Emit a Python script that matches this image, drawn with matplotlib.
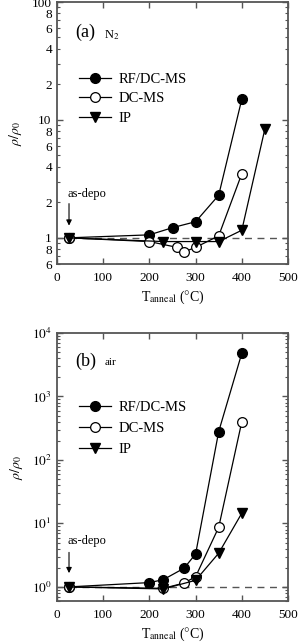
import matplotlib
matplotlib.use("Agg")
import matplotlib.pyplot as plt
from matplotlib.ticker import LogLocator, FuncFormatter, FixedLocator, NullFormatter
import numpy as np

plt.rcParams['font.family'] = ['Liberation Serif', 'DejaVu Serif']
plt.rcParams['mathtext.fontset'] = 'stix'

# Panel (a) N2
x_rf_a = [25, 200, 250, 300, 350, 400]
y_rf_a = [1.0, 1.06, 1.22, 1.37, 2.3, 15]
x_dc_a = [25, 200, 260, 275, 300, 350, 400]
y_dc_a = [1.0, 0.93, 0.83, 0.76, 0.83, 1.04, 3.5]
x_ip_a = [25, 230, 300, 350, 400, 450]
y_ip_a = [1.0, 0.93, 0.93, 0.93, 1.16, 8.4]

# Panel (b) air
x_rf_b = [25, 200, 230, 275, 300, 350, 400]
y_rf_b = [1.0, 1.17, 1.3, 1.97, 3.3, 280, 4800]
x_dc_b = [25, 230, 275, 300, 350, 400]
y_dc_b = [1.0, 0.95, 1.15, 1.45, 8.7, 400]
x_ip_b = [25, 230, 300, 350, 400]
y_ip_b = [1.0, 0.93, 1.27, 3.4, 14.5]

series_labels = ['RF/DC-MS', 'DC-MS', 'IP']
xticks = [0, 100, 200, 300, 400, 500]

fig = plt.figure(figsize=(2.99, 6.42), dpi=100)
ax_a = fig.add_axes([57/299, 1-264/642, 231/299, 262/642])
ax_b = fig.add_axes([57/299, 1-601/642, 231/299, 268/642])

spine_c = '#555555'
lw = 0.9
ms = 7

def draw(ax, data, leg_anchor, lspace):
    (xr, yr), (xd, yd), (xi, yi) = data
    ax.axhline(1.0, color='#555555', ls=(0, (5, 4)), lw=1.0, zorder=1)
    ax.plot(xr, yr, '-o', color='black', mfc='black', mec='black', ms=ms, lw=lw,
            label=series_labels[0], zorder=3)
    ax.plot(xd, yd, '-o', color='black', mfc='white', mec='black', ms=ms, lw=lw,
            mew=0.9, label=series_labels[1], zorder=3)
    ax.plot(xi, yi, '-v', color='black', mfc='black', mec='black', ms=ms+0.5, lw=lw,
            label=series_labels[2], zorder=3)
    ax.set_yscale('log')
    ax.set_xlim(0, 500)
    ax.set_xticks(xticks)
    ax.tick_params(which='both', direction='in', top=True, right=True, labelsize=9.5,
                   color=spine_c)
    ax.tick_params(axis='x', pad=6)
    ax.tick_params(axis='y', pad=4)
    ax.tick_params(which='major', length=4, width=1.0)
    ax.tick_params(which='minor', length=2.5, width=0.8)
    for s in ax.spines.values():
        s.set_color(spine_c)
        s.set_linewidth(1.3)
    ax.set_xlabel(r'T$_{\rm anneal}$ ($\degree$C)', fontsize=10, labelpad=3)
    ax.set_ylabel(r'$\rho/\rho_0$', fontsize=10, labelpad=5)
    ax.legend(loc='upper left', bbox_to_anchor=leg_anchor, frameon=False,
              fontsize=10.5, handlelength=2.2, handletextpad=0.5,
              labelspacing=lspace, numpoints=1, borderpad=0.2)

draw(ax_a, [(x_rf_a, y_rf_a), (x_dc_a, y_dc_a), (x_ip_a, y_ip_a)], (0.05, 0.77), 0.45)
draw(ax_b, [(x_rf_b, y_rf_b), (x_dc_b, y_dc_b), (x_ip_b, y_ip_b)], (0.05, 0.785), 0.55)

# Panel (a) y axis
ax_a.set_ylim(0.6, 100)
ax_a.yaxis.set_major_locator(FixedLocator([1, 10, 100]))
ax_a.yaxis.set_major_formatter(FuncFormatter(lambda v, p: '%d' % round(v)))
minor_a = [0.6, 0.7, 0.8, 0.9] + list(range(2, 10)) + list(range(20, 100, 10))
ax_a.yaxis.set_minor_locator(FixedLocator(minor_a))
def minor_fmt(v, p):
    lead = int(round(v / 10 ** np.floor(np.log10(v) + 1e-9)))
    return str(lead) if lead in (2, 4, 6, 8) else ''
ax_a.yaxis.set_minor_formatter(FuncFormatter(minor_fmt))

# Panel (b) y axis
ax_b.set_ylim(0.6, 1e4)
ax_b.yaxis.set_major_locator(FixedLocator([1, 10, 100, 1000, 10000]))
ax_b.yaxis.set_major_formatter(FuncFormatter(lambda v, p: r'$10^{%d}$' % round(np.log10(v))))
ax_b.yaxis.set_minor_locator(LogLocator(base=10, subs=np.arange(2, 10), numticks=20))
ax_b.yaxis.set_minor_formatter(NullFormatter())

# Panel labels
ax_a.text(0.08, 0.885, '(a)', transform=ax_a.transAxes, fontsize=13, va='center', ha='left')
ax_a.text(0.205, 0.875, r'N$_2$', transform=ax_a.transAxes, fontsize=9, va='center', ha='left')
ax_b.text(0.08, 0.895, '(b)', transform=ax_b.transAxes, fontsize=13, va='center', ha='left')
ax_b.text(0.205, 0.89, 'air', transform=ax_b.transAxes, fontsize=8, va='center', ha='left')

# as-depo annotations
arrow_kw = dict(arrowstyle='-|>', color='black', lw=0.8, mutation_scale=8, shrinkA=0, shrinkB=0)
ax_a.text(22, 2.1, 'as-depo', fontsize=9, ha='left', va='bottom')
ax_a.annotate('', xy=(26, 1.27), xytext=(26, 1.95), arrowprops=arrow_kw)
ax_b.text(22, 4.2, 'as-depo', fontsize=9, ha='left', va='bottom')
ax_b.annotate('', xy=(26, 1.65), xytext=(26, 3.5), arrowprops=arrow_kw)

fig.savefig('out.png', dpi=100)
